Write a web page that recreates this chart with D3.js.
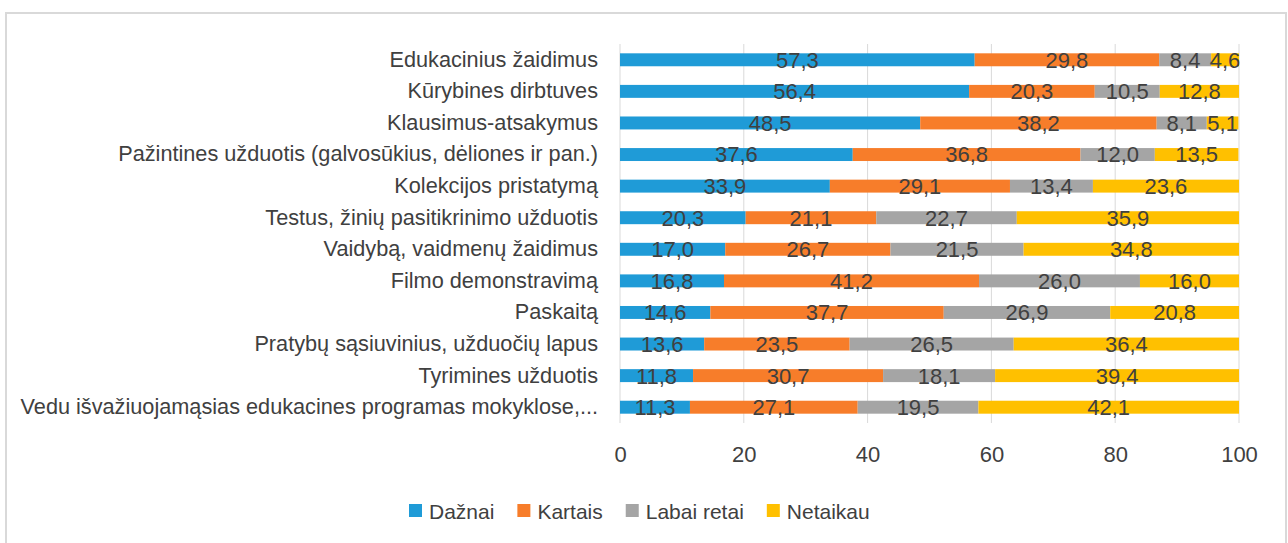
<!DOCTYPE html>
<html>
<head>
<meta charset="utf-8">
<script src="https://cdn.jsdelivr.net/npm/d3@7"></script>
<style>
  body { margin: 0; background: #fff; }
  svg text { font-family: "Liberation Sans", Arial, sans-serif; fill: #404040; }
</style>
</head>
<body>
<div class="container"></div>
<script>
// categories, top to bottom
var categories = [
  "Edukacinius žaidimus",
  "Kūrybines dirbtuves",
  "Klausimus-atsakymus",
  "Pažintines užduotis (galvosūkius, dėliones ir pan.)",
  "Kolekcijos pristatymą",
  "Testus, žinių pasitikrinimo užduotis",
  "Vaidybą, vaidmenų žaidimus",
  "Filmo demonstravimą",
  "Paskaitą",
  "Pratybų sąsiuvinius, užduočių lapus",
  "Tyrimines užduotis",
  "Vedu išvažiuojamąsias edukacines programas mokyklose,..."
];
var seriesNames = ["Dažnai", "Kartais", "Labai retai", "Netaikau"];
var daznai     = [57.3, 56.4, 48.5, 37.6, 33.9, 20.3, 17.0, 16.8, 14.6, 13.6, 11.8, 11.3];
var kartais    = [29.8, 20.3, 38.2, 36.8, 29.1, 21.1, 26.7, 41.2, 37.7, 23.5, 30.7, 27.1];
var labaiRetai = [8.4, 10.5, 8.1, 12.0, 13.4, 22.7, 21.5, 26.0, 26.9, 26.5, 18.1, 19.5];
var netaikau   = [4.6, 12.8, 5.1, 13.5, 23.6, 35.9, 34.8, 16.0, 20.8, 36.4, 39.4, 42.1];
var xTicks = [0, 20, 40, 60, 80, 100];

const WIDTH = 1288;
const HEIGHT = 543;
var colors = ["#1f9bd7", "#f77d2a", "#a5a5a5", "#ffc000"];

var rows = categories.map(function(c, i) {
  return {cat: c, "Dažnai": daznai[i], "Kartais": kartais[i],
          "Labai retai": labaiRetai[i], "Netaikau": netaikau[i]};
});

var svg = d3.select('.container').append('svg')
  .attr('width', WIDTH)
  .attr('height', HEIGHT);

// outer frame
svg.append('rect')
  .attr('x', 6).attr('y', 13)
  .attr('width', 1280).attr('height', 560)
  .attr('fill', 'none')
  .attr('stroke', '#d9d9d9')
  .attr('stroke-width', 2);

var xScale = d3.scaleLinear().domain([0, 100]).range([620, 1239]).clamp(true);
var yScale = d3.scaleBand().domain(categories).range([44, 423])
  .paddingInner(0.59).paddingOuter(0.295);

// gridlines
svg.append('g').selectAll('line')
  .data(xTicks)
  .enter().append('line')
  .attr('x1', function(d){ return xScale(d); })
  .attr('x2', function(d){ return xScale(d); })
  .attr('y1', 44).attr('y2', 423)
  .attr('stroke', '#d9d9d9')
  .attr('stroke-width', 1);

// x axis labels
var xAxis = d3.axisBottom(xScale).tickValues(xTicks).tickSize(0).tickPadding(0);
var gx = svg.append('g')
  .attr('transform', 'translate(0,446)')
  .call(xAxis);
gx.select('.domain').remove();
gx.selectAll('text')
  .attr('dy', '0.74em')
  .style('font-size', '22px')
  .style('font-family', '"Liberation Sans", Arial, sans-serif')
  .attr('fill', '#595959');

// category labels
var yAxis = d3.axisLeft(yScale).tickSize(0).tickPadding(0);
var gy = svg.append('g')
  .attr('transform', 'translate(598,0)')
  .call(yAxis);
gy.select('.domain').remove();
gy.selectAll('text')
  .style('font-size', '21.7px')
  .style('font-family', '"Liberation Sans", Arial, sans-serif')
  .attr('fill', '#404040');

// stacked bars
var stacked = d3.stack().keys(seriesNames)(rows);

var layers = svg.append('g').selectAll('g.layer')
  .data(stacked)
  .enter().append('g')
  .attr('class', 'layer')
  .attr('fill', function(d, i){ return colors[i]; });

layers.selectAll('rect')
  .data(function(d){ return d; })
  .enter().append('rect')
  .attr('x', function(d){ return xScale(d[0]); })
  .attr('y', function(d){ return yScale(d.data.cat); })
  .attr('width', function(d){ return xScale(d[1]) - xScale(d[0]); })
  .attr('height', yScale.bandwidth());

// data labels
var fmt = function(v){ return v.toFixed(1).replace('.', ','); };
svg.append('g').selectAll('g.lbl')
  .data(stacked)
  .enter().append('g')
  .attr('class', 'lbl')
  .selectAll('text')
  .data(function(layer){ return layer.map(function(d){ return {d: d, key: layer.key}; }); })
  .enter().append('text')
  .attr('x', function(o){ return (xScale(o.d[0]) + xScale(o.d[1])) / 2; })
  .attr('y', function(o){ return yScale(o.d.data.cat) + yScale.bandwidth() / 2; })
  .attr('dy', '0.36em')
  .attr('text-anchor', 'middle')
  .style('font-size', '22px')
  .text(function(o){ return fmt(o.d.data[o.key]); });

// legend
var legend = svg.append('g').attr('transform', 'translate(0,511)');
var lx = 409;
seriesNames.forEach(function(name, i) {
  var item = legend.append('g').attr('transform', 'translate(' + lx + ',0)');
  item.append('rect')
    .attr('x', 0).attr('y', -7)
    .attr('width', 13).attr('height', 13)
    .attr('fill', colors[i]);
  var t = item.append('text')
    .attr('x', 20).attr('dy', '0.36em')
    .style('font-size', '21px')
    .text(name);
  lx += 20 + t.node().getComputedTextLength() + 23;
});
</script>
</body>
</html>
